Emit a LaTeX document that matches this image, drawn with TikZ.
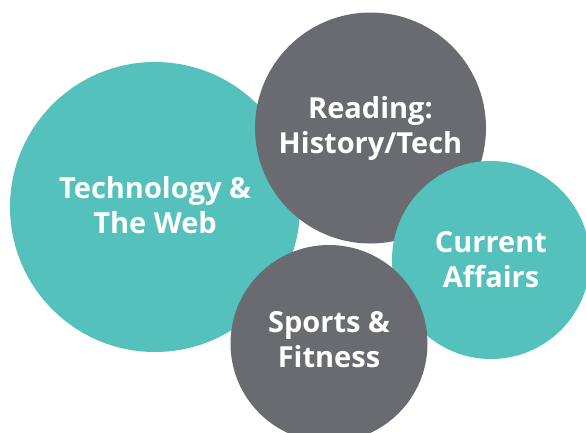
\documentclass[tikz,border=0pt]{standalone}
\usepackage{fontspec}
\setmainfont{Open Sans}
\definecolor{teal}{RGB}{84,193,188}
\definecolor{slate}{RGB}{106,107,112}
\begin{document}
\begin{tikzpicture}[x=1pt,y=-1pt,
  bubble/.style={circle,inner sep=0pt},
  caption/.style={text=white,align=center,inner sep=0pt,
    font=\fontsize{29}{35}\selectfont\bfseries}]
\useasboundingbox (0,0) rectangle (586,432);
\node[bubble,fill=teal,minimum size=290pt] (tech) at (155,207) {};
\node[caption] (techt) at ([yshift=2pt]tech.center) {Technology \&\\The Web};
\node[bubble,fill=slate,minimum size=231pt] (read) at (370.5,128) {};
\node[caption] (readt) at (read.center) {Reading:\\History/Tech};
\node[bubble,fill=teal,minimum size=198pt] (curr) at (491,260) {};
\node[caption] (currt) at (curr.center) {Current\\Affairs};
\node[bubble,fill=slate,minimum size=197pt] (sport) at (329,343.5) {};
\node[caption] (sportt) at ([yshift=3.5pt]sport.center) {Sports \&\\Fitness};
\end{tikzpicture}
\end{document}
